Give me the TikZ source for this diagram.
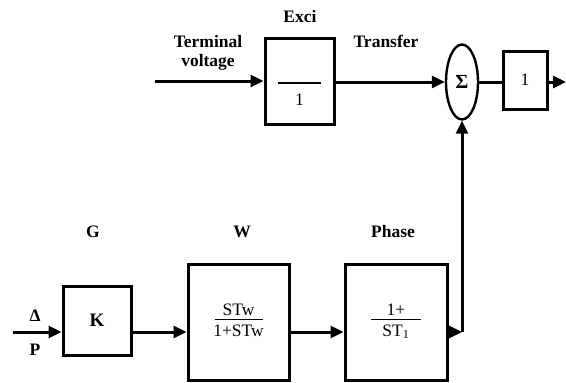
\documentclass[tikz,border=0pt]{standalone}
\usepackage{fontspec}
\setmainfont{Liberation Serif}
\usetikzlibrary{arrows.meta}
\usetikzlibrary{shapes.geometric}
\tikzset{
  blk/.style={draw,line width=3pt,inner sep=0pt},
  lbl/.style={font=\fontsize{17.5}{19}\selectfont\bfseries},
  txt/.style={font=\fontsize{17.5}{19}\selectfont},
  wire/.style={line width=3pt},
  bar/.style={line width=1.3pt},
}
\setlength{\arrayrulewidth}{1.3pt}
% fraction with a rule as wide as #1
\newcommand{\frc}[4]{\begin{tabular}{@{}c@{}}\makebox[#1]{#2}\\[-2pt]\hline\rule{0pt}{#4}\makebox[#1]{#3}\end{tabular}}

\begin{document}
\begin{tikzpicture}[line cap=butt,line join=miter,>={Triangle[length=13pt,width=12pt]},x=1pt,y=-1pt]
\useasboundingbox (0,0) rectangle (566,383);

% upper path
\node[blk,minimum width=69pt,minimum height=86pt] (exci) at (299.5,81) {};
\draw[bar] (278,83) -- (321,83);
\node[txt] (excid) at (299.5,100) {1};
\node[draw,ellipse,line width=2.4pt,minimum width=32pt,minimum height=75pt,inner sep=0pt,font=\fontsize{20}{20}\selectfont\bfseries] (sum) at (462,82) {Σ};
\node[blk,minimum width=44pt,minimum height=58pt,txt] (out) at (525,80) {1};
\coordinate (vin) at (155,81);
\coordinate (vout) at (566,82);

\node[lbl,align=center] (tv) at (208,53) {Terminal\\voltage};
\node[lbl] (excilbl) at (300,17) {Exci};
\node[lbl] (trlbl) at (386,41) {Transfer};

\draw[->,wire] (vin) -- (exci.west |- vin);
\draw[->,wire] (exci.east |- sum) -- (sum.west);
\draw[wire] (sum.east) -- (out.west |- sum);
\draw[->,wire] (out.east |- vout) -- (vout);

% lower path
\coordinate (row) at (13,332);
\node[blk,minimum width=68pt,minimum height=69pt,font=\fontsize{19}{19}\selectfont\bfseries] (g) at (97,320.5) {K};
\node[blk,minimum width=101pt,minimum height=116pt,txt] (w) at (238.5,322) {\frc{48pt}{STw}{1+STw}{16pt}};
\node[blk,minimum width=102pt,minimum height=116pt,txt] (ph) at (396,322) {\frc{50pt}{1+}{ST\textsubscript{1}}{16pt}};
\coordinate (corner) at (sum.south |- row);

\node[lbl] (glbl) at (93,232) {G};
\node[lbl] (wlbl) at (242,232) {W};
\node[lbl] (phlbl) at (393,232) {Phase};
\node[lbl] (dlt) at (35,316) {Δ};
\node[lbl] (plbl) at (35,350) {P};

\draw[->,wire] (row) -- (g.west |- row);
\draw[->,wire] (g.east |- row) -- (w.west |- row);
\draw[->,wire] (w.east |- row) -- (ph.west |- row);
\draw[->,wire] (ph.east |- row) -- (corner);
\draw[->,wire] (corner) -- (sum.south);
\end{tikzpicture}
\end{document}
